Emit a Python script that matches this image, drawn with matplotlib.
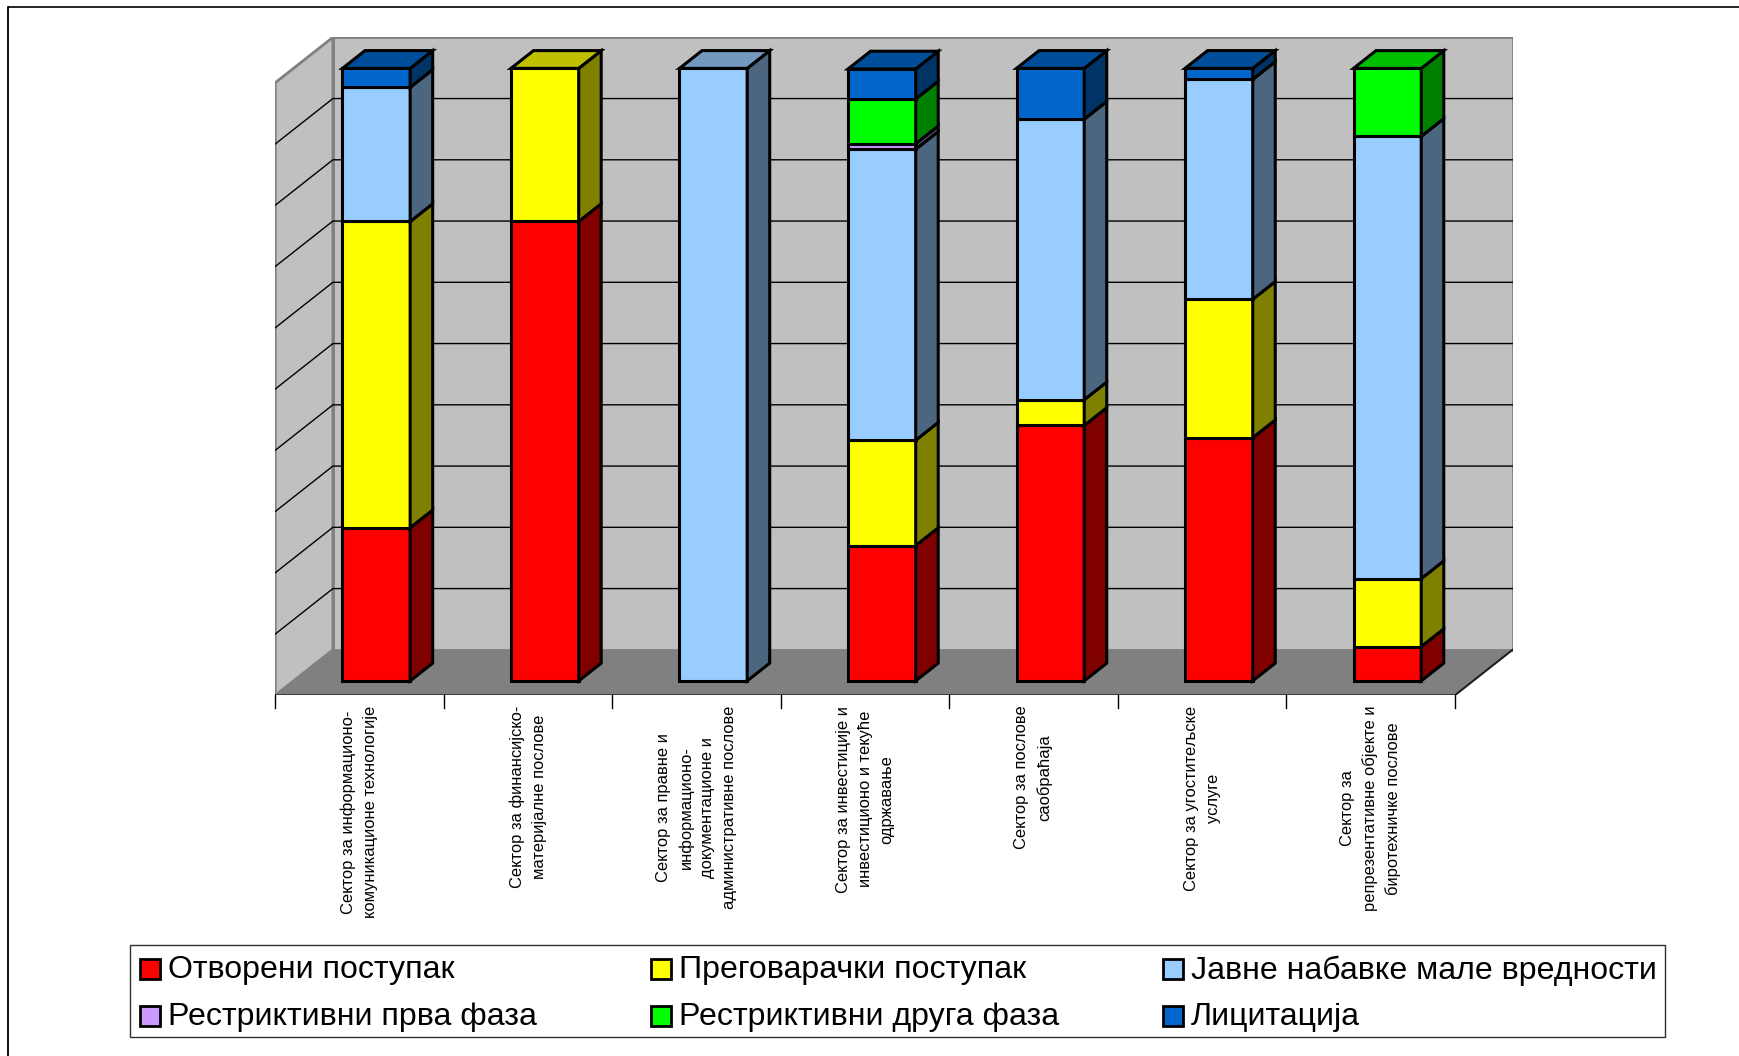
"""3D-look stacked 100% columns by sector, drawn with an oblique projection."""
import matplotlib
matplotlib.use("Agg")
import matplotlib.pyplot as plt
from matplotlib.patches import Polygon, Rectangle
from matplotlib.colors import to_rgb

plt.rcParams["font.family"] = ["Liberation Sans", "DejaVu Sans"]

# ----------------- data ------------------------------------------------------
sectors = [
    "Сектор за информационо-\nкомуникационе технологије",
    "Сектор за финансијско-\nматеријалне послове",
    "Сектор за правне и\nинформационо-\nдокументационе и\nадминистративне послове",
    "Сектор за инвестиције и\nинвестиционо и текуће\nодржавање",
    "Сектор за послове\nсаобраћаја",
    "Сектор за угоститељске\nуслуге",
    "Сектор за\nрепрезентативне објекте и\nбиротехничке послове",
]
otvoreni = [25.0, 75.0, 0.0, 22.1, 41.7, 39.7, 5.6]
pregovaracki = [50.0, 25.0, 0.0, 17.2, 4.2, 22.6, 11.1]
jnmv = [21.9, 0.0, 100.0, 47.5, 45.8, 35.9, 72.2]
restr_prva = [0.0, 0.0, 0.0, 0.9, 0.0, 0.0, 0.0]
restr_druga = [0.0, 0.0, 0.0, 7.3, 0.0, 0.0, 11.1]
licitacija = [3.1, 0.0, 0.0, 4.9, 8.3, 1.8, 0.0]

series_names = ["Отворени поступак", "Преговарачки поступак", "Јавне набавке мале вредности",
                "Рестриктивни прва фаза", "Рестриктивни друга фаза", "Лицитација"]
series_values = [otvoreni, pregovaracki, jnmv, restr_prva, restr_druga, licitacija]
series_colors = ["#ff0000", "#ffff00", "#99ccff", "#cc99ff", "#00ff00", "#0066cc"]

# ----------------- projection ------------------------------------------------
PX = 1740 / 1568
CAT = 1063 / 7    # width of one category on the front edge
DX = 52 / CAT     # depth shift in category units
DY = 41 / 5.52    # depth shift in percent units
BAR_W = 61 / CAT
BAR_SHIFT = -1.3 / CAT
BAR_Z0, BAR_Z1 = 13 / 41, 29 / 41
BAR_LW = 2.2


def proj(x, y, z=0.0):
    return (x + z * DX, y + z * DY)


def shade(color, k):
    return tuple(c * k for c in to_rgb(color))


fig = plt.figure(figsize=(17.4, 10.56), dpi=100)

# overlay in pixels for frame and legend
bg = fig.add_axes([0, 0, 1, 1])
bg.set_xlim(0, 1568)
bg.set_ylim(951.6, 0)
bg.axis("off")
bg.plot([7.5, 7.5], [6, 952], color="#808080", lw=1.4, clip_on=False)
bg.plot([7, 7, 1568], [952, 6, 6], color="black", lw=1.2, clip_on=False)

ax = fig.add_axes([248 * PX / 1740, 1 - 626.6 * PX / 1056,
                   (1363 - 248) * PX / 1740, (627 - 34) * PX / 1056])
ax.set_xlim(0, 7 + DX)
ax.set_ylim(0, 100 + DY)
ax.axis("off")
ax.patch.set_visible(False)

WALL = "#c0c0c0"
EDGE = "#808080"
# floor, back wall, side wall
ax.add_patch(Polygon([proj(0, 0), proj(7, 0), proj(7, 0, 1), proj(0, 0, 1)], fc="#808080", ec="none"))
ax.add_patch(Polygon([proj(0, 0, 1), proj(7, 0, 1), proj(7, 100, 1), proj(0, 100, 1)],
                     fc=WALL, ec=EDGE, lw=2))
ax.add_patch(Polygon([proj(0, 0), proj(0, 0, 1), proj(0, 100, 1), proj(0, 100)],
                     fc=WALL, ec=EDGE, lw=2))

# gridlines along side and back wall
for g in range(10, 100, 10):
    ax.plot(*zip(proj(0, g), proj(0, g, 1), proj(7, g, 1)), color="black", lw=1.0)

# front floor edge, ticks and category labels
ax.plot(*zip(proj(0, 0), proj(7, 0), proj(7, 0, 1)), color="#202020", lw=1.5)
for i in range(8):
    ax.plot([i, i], [0, -2.1], color="black", lw=1.0, clip_on=False)
for i, name in enumerate(sectors):
    ax.text(i + 0.5, -1.7, name, rotation=90, ha="center", va="top", ma="center",
            fontsize=11.9, linespacing=1.58, clip_on=False)

# stacked columns, bottom to top
for i in range(len(sectors)):
    x0 = i + 0.5 + BAR_SHIFT - BAR_W / 2
    x1 = x0 + BAR_W
    base = 0.0
    top_col = None
    for vals, col in zip(series_values, series_colors):
        v = vals[i]
        if v <= 0:
            continue
        top = base + v
        ax.add_patch(Polygon([proj(x0, base, BAR_Z0), proj(x1, base, BAR_Z0),
                              proj(x1, top, BAR_Z0), proj(x0, top, BAR_Z0)],
                             fc=col, ec="black", lw=BAR_LW, joinstyle="miter", zorder=3))
        ax.add_patch(Polygon([proj(x1, base, BAR_Z0), proj(x1, base, BAR_Z1),
                              proj(x1, top, BAR_Z1), proj(x1, top, BAR_Z0)],
                             fc=shade(col, 0.5), ec="black", lw=BAR_LW, joinstyle="miter", zorder=3))
        base = top
        top_col = col
    ax.add_patch(Polygon([proj(x0, base, BAR_Z0), proj(x1, base, BAR_Z0),
                          proj(x1, base, BAR_Z1), proj(x0, base, BAR_Z1)],
                         fc=shade(top_col, 0.75), ec="black", lw=BAR_LW, joinstyle="miter", zorder=3))

# legend box
bg.add_patch(Rectangle((117, 851.5), 1383, 83, fc="white", ec="#303030", lw=1.0))
for k, (name, col) in enumerate(zip(series_names, series_colors)):
    lx = 126 + 461 * (k % 3)
    ly = 874.5 + 42 * (k // 3)
    bg.add_patch(Rectangle((lx, ly - 10), 18, 18, fc=col, ec="black", lw=2))
    bg.text(lx + 25, ly, name, va="center", ha="left", fontsize=23.1)

fig.savefig("out.png", dpi=100)
